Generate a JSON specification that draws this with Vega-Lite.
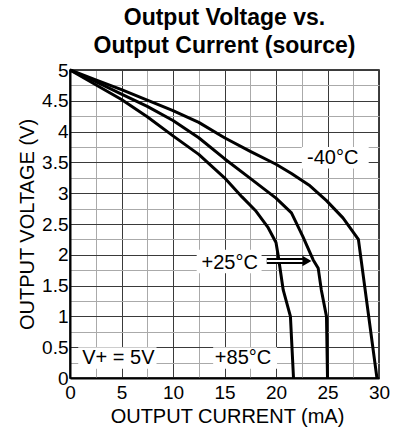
{
  "$schema": "https://vega.github.io/schema/vega-lite/v6.json",
  "width": 309,
  "height": 308,
  "autosize": {"type": "none"},
  "padding": {"left": 70, "top": 70, "right": 30, "bottom": 51},
  "background": "white",
  "config": {"font": "Liberation Sans", "view": {"stroke": "black", "strokeWidth": 1.5}},
  "title": {"text": ["Output Voltage vs.", "Output Current (source)"], "font": "Liberation Sans", "fontSize": 23, "fontWeight": "bold", "color": "black", "lineHeight": 28, "anchor": "middle", "offset": 3},
  "datasets": {
    "curves": [
      {"temp": "-40°C", "I": 0, "V": 5}, {"temp": "-40°C", "I": 2.5, "V": 4.84}, {"temp": "-40°C", "I": 5, "V": 4.68}, {"temp": "-40°C", "I": 7.5, "V": 4.51}, {"temp": "-40°C", "I": 10, "V": 4.34}, {"temp": "-40°C", "I": 12.5, "V": 4.15}, {"temp": "-40°C", "I": 15, "V": 3.9}, {"temp": "-40°C", "I": 17.5, "V": 3.68}, {"temp": "-40°C", "I": 20, "V": 3.47}, {"temp": "-40°C", "I": 21.5, "V": 3.32}, {"temp": "-40°C", "I": 23.3, "V": 3.12}, {"temp": "-40°C", "I": 24.9, "V": 2.88}, {"temp": "-40°C", "I": 26.5, "V": 2.6}, {"temp": "-40°C", "I": 28, "V": 2.25}, {"temp": "-40°C", "I": 29.8, "V": 0},
      {"temp": "+25°C", "I": 0, "V": 5}, {"temp": "+25°C", "I": 2.5, "V": 4.81}, {"temp": "+25°C", "I": 5, "V": 4.61}, {"temp": "+25°C", "I": 7.5, "V": 4.41}, {"temp": "+25°C", "I": 10, "V": 4.18}, {"temp": "+25°C", "I": 12.5, "V": 3.9}, {"temp": "+25°C", "I": 15, "V": 3.56}, {"temp": "+25°C", "I": 17.5, "V": 3.24}, {"temp": "+25°C", "I": 20, "V": 2.92}, {"temp": "+25°C", "I": 21.5, "V": 2.68}, {"temp": "+25°C", "I": 22.6, "V": 2.3}, {"temp": "+25°C", "I": 23.6, "V": 1.92}, {"temp": "+25°C", "I": 24.1, "V": 1.78}, {"temp": "+25°C", "I": 24.4, "V": 1.43}, {"temp": "+25°C", "I": 24.9, "V": 1.0}, {"temp": "+25°C", "I": 25, "V": 0},
      {"temp": "+85°C", "I": 0, "V": 5}, {"temp": "+85°C", "I": 2.5, "V": 4.76}, {"temp": "+85°C", "I": 5, "V": 4.52}, {"temp": "+85°C", "I": 7.5, "V": 4.24}, {"temp": "+85°C", "I": 10, "V": 3.93}, {"temp": "+85°C", "I": 12.5, "V": 3.63}, {"temp": "+85°C", "I": 15, "V": 3.25}, {"temp": "+85°C", "I": 16.7, "V": 2.94}, {"temp": "+85°C", "I": 18, "V": 2.72}, {"temp": "+85°C", "I": 19.2, "V": 2.45}, {"temp": "+85°C", "I": 20, "V": 2.2}, {"temp": "+85°C", "I": 20.2, "V": 2.0}, {"temp": "+85°C", "I": 20.7, "V": 1.43}, {"temp": "+85°C", "I": 21.4, "V": 1.0}, {"temp": "+85°C", "I": 21.7, "V": 0}
    ],
    "boxes": [
      {"I": 22.5, "I2": 29.0, "V": 3.4, "V2": 3.75},
      {"I": 12.3, "I2": 18.6, "V": 1.7, "V2": 2.08},
      {"I": 13.9, "I2": 20.1, "V": 0.15, "V2": 0.5},
      {"I": 0.8, "I2": 8.4, "V": 0.15, "V2": 0.5}
    ],
    "labels": [
      {"I": 25.5, "V": 3.57, "t": "-40°C"},
      {"I": 15.5, "V": 1.87, "t": "+25°C"},
      {"I": 16.8, "V": 0.32, "t": "+85°C"},
      {"I": 4.7, "V": 0.32, "t": "V+ = 5V"}
    ],
    "arrow": [{"I": 19.1, "I2": 22.8, "V": 1.9}],
    "head": [{"I": 23.0, "V": 1.9}]
  },
  "encoding": {
    "x": {"field": "I", "type": "quantitative", "title": "OUTPUT CURRENT (mA)",
      "scale": {"domain": [0, 30], "nice": false, "zero": false},
      "axis": {
        "values": [0, 2.5, 5, 7.5, 10, 12.5, 15, 17.5, 20, 22.5, 25, 27.5, 30],
        "labelExpr": "datum.value % 5 === 0 ? format(datum.value, '~g') : ''",
        "grid": true,
        "gridColor": {"condition": {"test": "datum.value % 5 === 0", "value": "#3a3a3a"}, "value": "#aaaaaa"},
        "gridWidth": 1,
        "gridOpacity": 1,
        "ticks": false, "tickSize": 0,
        "domainColor": "black", "domainWidth": 2,
        "labelFontSize": 19, "labelColor": "black", "labelPadding": 5, "labelFlush": false, "labelOverlap": false,
        "titleFontSize": 20, "titleFontWeight": "normal", "titleColor": "black",
        "titleX": 157, "titleY": 44, "titleBaseline": "alphabetic"
      }
    },
    "y": {"field": "V", "type": "quantitative", "title": "OUTPUT VOLTAGE (V)",
      "scale": {"domain": [0, 5], "nice": false, "zero": false},
      "axis": {
        "values": [0, 0.25, 0.5, 0.75, 1, 1.25, 1.5, 1.75, 2, 2.25, 2.5, 2.75, 3, 3.25, 3.5, 3.75, 4, 4.25, 4.5, 4.75, 5],
        "labelExpr": "datum.value % 0.5 === 0 ? format(datum.value, '~g') : ''",
        "grid": true,
        "gridColor": {"condition": {"test": "datum.value % 0.5 === 0", "value": "#3a3a3a"}, "value": "#aaaaaa"},
        "gridWidth": 1,
        "gridOpacity": 1,
        "ticks": false, "tickSize": 0,
        "domainColor": "black", "domainWidth": 2,
        "labelFontSize": 19, "labelColor": "black", "labelPadding": 2, "labelFlush": false, "labelOverlap": false,
        "titleFontSize": 20, "titleFontWeight": "normal", "titleColor": "black",
        "titleX": -37, "titleY": 154, "titleBaseline": "alphabetic"
      }
    }
  },
  "layer": [
    {
      "data": {"name": "boxes"},
      "mark": {"type": "rect", "fill": "white", "stroke": null},
      "encoding": {
        "x2": {"field": "I2"},
        "y2": {"field": "V2"}
      }
    },
    {
      "data": {"name": "curves"},
      "mark": {"type": "line", "color": "black", "strokeWidth": 3, "strokeJoin": "round"},
      "encoding": {
        "detail": {"field": "temp"}
      }
    },
    {
      "data": {"name": "arrow"},
      "mark": {"type": "rule", "color": "black", "strokeWidth": 6},
      "encoding": {
        "x2": {"field": "I2"}
      }
    },
    {
      "data": {"name": "arrow"},
      "mark": {"type": "rule", "color": "white", "strokeWidth": 2},
      "encoding": {
        "x2": {"field": "I2"}
      }
    },
    {
      "data": {"name": "head"},
      "mark": {"type": "point", "shape": "triangle-right", "filled": true, "color": "black", "size": 110, "opacity": 1}
    },
    {
      "data": {"name": "labels"},
      "mark": {"type": "text", "fontSize": 20, "color": "black", "align": "center", "baseline": "middle"},
      "encoding": {
        "text": {"field": "t"}
      }
    }
  ]
}
